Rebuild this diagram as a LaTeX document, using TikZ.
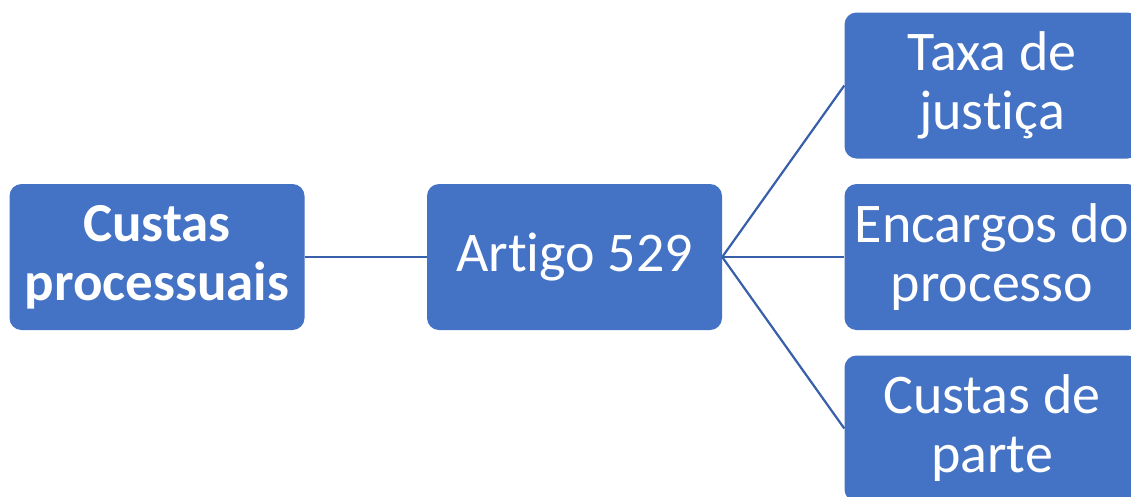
\documentclass[tikz,border=0pt]{standalone}
\usepackage{fontspec}
\setmainfont{Carlito}[Ligatures=NoCommon]
\usetikzlibrary{positioning}

\definecolor{boxblue}{HTML}{4472C4}
\definecolor{lineblue}{RGB}{55,95,170}

\begin{document}
\begin{tikzpicture}[node distance=171.5pt and 417.5pt, on grid,
    block/.style={rectangle, rounded corners=12pt, fill=boxblue, text=white,
        minimum width=295pt, minimum height=146pt, inner sep=0pt,
        align=center, font=\fontsize{56}{59}\selectfont},
    link/.style={draw=lineblue, line width=2.2pt}]
                \useasboundingbox (0,0) rectangle (1131pt,-496pt);
                \clip (0,0) rectangle (1131pt,-496pt);
                \node[block, font=\fontsize{55}{59}\selectfont\bfseries] (custas) at (157pt,-257pt) {Custas\\processuais};
                \node[block] (artigo) [right=of custas] {Artigo 529};
                \node[block] (encargos) [right=of artigo] {Encargos do\\processo};
                \node[block] (taxa) [above=of encargos] {Taxa de\\justiça};
                \node[block] (parte) [below=of encargos] {Custas de\\parte};
                \path[link]
                (custas) edge (artigo)
                (artigo.east) edge (taxa.west)
                (artigo.east) edge (encargos.west)
                (artigo.east) edge (parte.west);
        \end{tikzpicture}
\end{document}
